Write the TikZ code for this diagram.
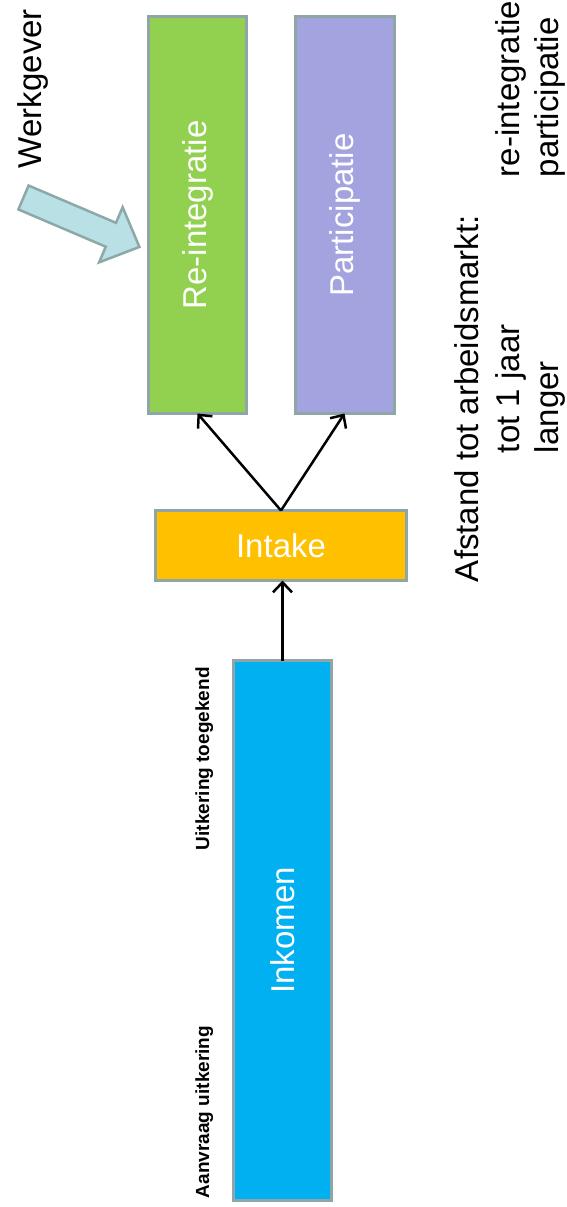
\documentclass[tikz,border=0pt]{standalone}
\usepackage{fontspec}
\setmainfont{Liberation Sans}
\usetikzlibrary{arrows.meta}
\definecolor{bordergray}{HTML}{8FA5A8}
\definecolor{boxgreen}{HTML}{92D050}
\definecolor{boxpurple}{HTML}{A3A3E0}
\definecolor{boxorange}{HTML}{FFC000}
\definecolor{boxblue}{HTML}{00B0F0}
\definecolor{arrowfill}{HTML}{B9E0E4}
\definecolor{arrowline}{HTML}{8CA8A8}
\tikzset{
  box/.style={draw=bordergray, line width=3pt, inner sep=0pt, outer sep=0pt,
    text=white, font=\fontsize{33}{40}\selectfont},
  vbox/.style={box, rotate=90},
  conn/.style={draw=black, line width=2.5pt, -{Straight Barb[length=10pt,width=19pt,line width=2.5pt]}},
  bigtext/.style={inner sep=0pt, outer sep=0pt, anchor=base west, rotate=90,
    font=\fontsize{33}{40}\selectfont},
  smalltext/.style={inner sep=0pt, outer sep=0pt, anchor=base west, rotate=90,
    font=\fontsize{19}{22}\selectfont\bfseries},
}
\begin{document}
\begin{tikzpicture}[x=1pt, y=1pt]
\useasboundingbox (0,0) rectangle (567,-1207);
% boxes (rotated: minimum width is the vertical extent)
\node[vbox, fill=boxgreen, minimum width=397pt, minimum height=98pt] (reint) at (197.5,-215) {Re-integratie};
\node[vbox, fill=boxpurple, minimum width=397pt, minimum height=99pt] (part) at (344.5,-215) {Participatie};
\node[box, fill=boxorange, minimum width=251pt, minimum height=70pt] (intake) at (281,-545.5) {Intake};
\node[vbox, fill=boxblue, minimum width=540pt, minimum height=98pt] (inkomen) at (282.5,-930.5) {Inkomen};
% connectors
\draw[conn] (intake.north) -- (reint.west);
\draw[conn] (intake.north) -- (part.west);
\draw[conn] (inkomen.east) -- (inkomen.east |- intake.south);
% block arrow from Werkgever
\begin{scope}[shift={(23.5,-197.5)}, rotate=-23.1]
\draw[draw=arrowline, fill=arrowfill, line width=2.5pt, line join=miter]
  (0,13) -- (95,13) -- (95,30) -- (126,0) -- (95,-30) -- (95,-13) -- (0,-13) -- cycle;
\end{scope}
% texts
\node[bigtext] (werkgever) at (41,-168) {Werkgever};
\node[smalltext] (toegekend) at (209,-850) {Uitkering toegekend};
\node[smalltext] (aanvraag) at (209,-1198) {Aanvraag uitkering};
\node[bigtext] (afstand) at (478,-582) {Afstand tot arbeidsmarkt:};
\node[bigtext] (totjaar) at (519,-453) {tot 1 jaar};
\node[bigtext] (reinttxt) at (519,-177) {re-integratie};
\node[bigtext] (langer) at (558,-453) {langer};
\node[bigtext] (parttxt) at (558,-177) {participatie};
\end{tikzpicture}
\end{document}
